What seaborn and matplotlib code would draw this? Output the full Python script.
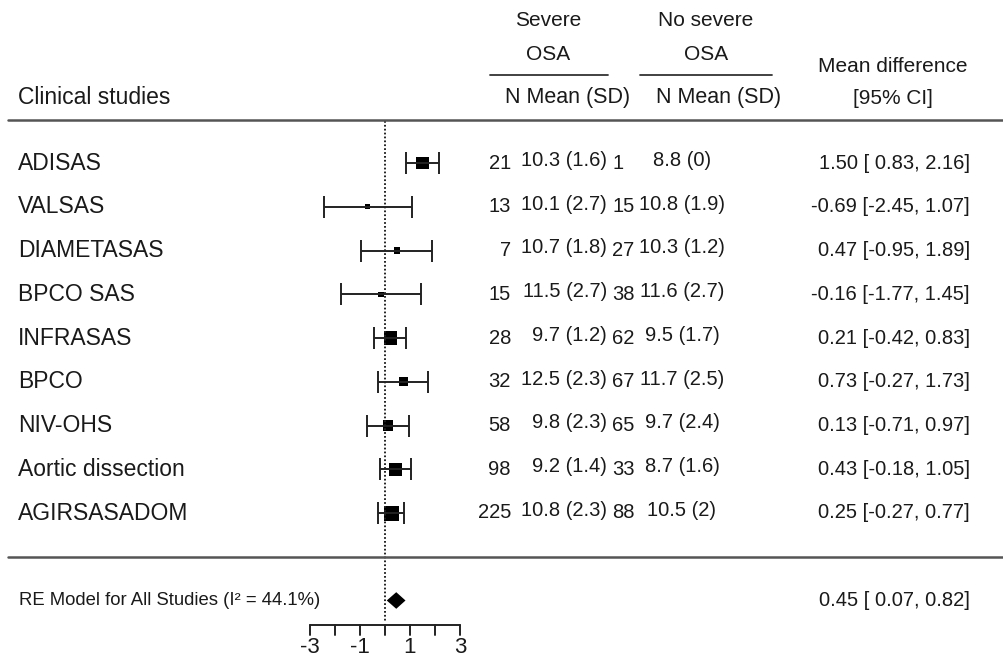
import numpy as np
import pandas as pd
import matplotlib
matplotlib.use('Agg')
import matplotlib.pyplot as plt
import seaborn as sns
from matplotlib.transforms import blended_transform_factory

# dados do forest plot
studies = ['ADISAS', 'VALSAS', 'DIAMETASAS', 'BPCO SAS', 'INFRASAS', 'BPCO',
           'NIV-OHS', 'Aortic dissection', 'AGIRSASADOM']
n_severe = [21, 13, 7, 15, 28, 32, 58, 98, 225]
mean_severe = ['10.3 (1.6)', '10.1 (2.7)', '10.7 (1.8)', '11.5 (2.7)', '9.7 (1.2)',
               '12.5 (2.3)', '9.8 (2.3)', '9.2 (1.4)', '10.8 (2.3)']
n_nosevere = [1, 15, 27, 38, 62, 67, 65, 33, 88]
mean_nosevere = ['8.8 (0)', '10.8 (1.9)', '10.3 (1.2)', '11.6 (2.7)', '9.5 (1.7)',
                 '11.7 (2.5)', '9.7 (2.4)', '8.7 (1.6)', '10.5 (2)']
md = [1.50, -0.69, 0.47, -0.16, 0.21, 0.73, 0.13, 0.43, 0.25]
ci_low = [0.83, -2.45, -0.95, -1.77, -0.42, -0.27, -0.71, -0.18, -0.27]
ci_high = [2.16, 1.07, 1.89, 1.45, 0.83, 1.73, 0.97, 1.05, 0.77]
re_est, re_low, re_high = 0.45, 0.07, 0.82
re_label = 'RE Model for All Studies (I² = 44.1%)'
ticks = [-3, -2, -1, 0, 1, 2, 3]
tick_labels = ['-3', '', '-1', '', '1', '', '3']
tau2 = 0.1  # estimativa aproximada para os pesos RE

df = pd.DataFrame({'study': studies, 'md': md, 'lb': ci_low, 'ub': ci_high})
df['row'] = np.arange(len(df))
se = (df['ub'] - df['lb']) / (2 * 1.96)
w = 1 / (se ** 2 + tau2)
psize = 0.5 + (w - w.min()) / (w.max() - w.min())  # como no metafor
df['box'] = (psize * 7.2) ** 2

sns.set_theme(style='white')
plt.rcParams['font.family'] = ['Liberation Sans', 'DejaVu Sans']
txt = '#1a1a1a'

fig = plt.figure(figsize=(10.04, 6.6), dpi=100)
ax = fig.add_axes([0, 0, 1, 1])
# 25 px por unidade, x=0 em 385 px; linhas a cada 43.75 px a partir de 163 px
ax.set_xlim(-385 / 25, (1004 - 385) / 25)
ax.set_ylim((660 - 163) / 43.75, -163 / 43.75)
ax.axis('off')
tr = blended_transform_factory(ax.transAxes, ax.transData)

def px(x):
    return x / 1004

def hy(p):
    return (p - 163) / 43.75

# intervalos de confiança
ax.errorbar(df['md'], df['row'], xerr=[df['md'] - df['lb'], df['ub'] - df['md']],
            fmt='none', ecolor='#222222', elinewidth=1.4, capsize=8, capthick=1.4)
sns.scatterplot(data=df, x='md', y='row', size='box', sizes=(df['box'].min(), df['box'].max()),
                marker='s', color='black', edgecolor='black', linewidth=0, legend=False, ax=ax)

re_row = len(df) + 1
ax.fill([re_low, re_est, re_high, re_est], [re_row, re_row - 0.19, re_row, re_row + 0.19],
        color='black', lw=0)

# linha de referência
ax.plot([0, 0], [-0.95, re_row + 0.48], ls=(0, (0.9, 1.1)), color='#222222', lw=1.4)

# linhas horizontais
ax.plot([px(8), 1], [-0.98, -0.98], transform=tr, color='#555555', lw=1.8)
ax.plot([px(8), 1], [len(df), len(df)], transform=tr, color='#555555', lw=1.8)

# eixo x
axis_y = re_row + 0.57
ax.plot([ticks[0], ticks[-1]], [axis_y, axis_y], color='#222222', lw=1.4)
for t, lab in zip(ticks, tick_labels):
    ax.plot([t, t], [axis_y, axis_y + 0.21], color='#222222', lw=1.4)
    if lab:
        ax.text(t, axis_y + 0.5, lab, ha='center', va='center', fontsize=16, color=txt)

fs = 16.5
fn = 14.5
for i, r in df.iterrows():
    y = r['row']
    ax.text(px(18), y, studies[i], transform=tr, ha='left', va='center', fontsize=fs, color=txt)
    ax.text(px(511), y, str(n_severe[i]), transform=tr, ha='right', va='center', fontsize=fn, color=txt)
    ax.text(px(607), y - 0.06, mean_severe[i], transform=tr, ha='right', va='center', fontsize=fn, color=txt)
    ax.text(px(612), y, str(n_nosevere[i]), transform=tr, ha='left', va='center', fontsize=fn, color=txt)
    ax.text(px(682), y - 0.06, mean_nosevere[i], transform=tr, ha='center', va='center', fontsize=fn, color=txt)
    ax.text(px(970), y, f'{md[i]:.2f} [{ci_low[i]:5.2f}, {ci_high[i]:.2f}]',
            transform=tr, ha='right', va='center', fontsize=fn, color=txt)

ax.text(px(19), re_row, re_label, transform=tr, ha='left', va='center', fontsize=13.3, color=txt)
ax.text(px(970), re_row, f'{re_est:.2f} [ {re_low:.2f}, {re_high:.2f}]', transform=tr,
        ha='right', va='center', fontsize=fn, color=txt)

# cabeçalho
fh = 15
ax.text(px(18), hy(98), 'Clinical studies', transform=tr, ha='left', va='center', fontsize=fs, color=txt)
ax.text(px(548), hy(20), 'Severe', transform=tr, ha='center', va='center', fontsize=fh, color=txt)
ax.text(px(548), hy(55), 'OSA', transform=tr, ha='center', va='center', fontsize=fh, color=txt)
ax.text(px(706), hy(20), 'No severe', transform=tr, ha='center', va='center', fontsize=fh, color=txt)
ax.text(px(706), hy(55), 'OSA', transform=tr, ha='center', va='center', fontsize=fh, color=txt)
ax.plot([px(490), px(608)], [hy(75), hy(75)], transform=tr, color='#333333', lw=1.3)
ax.plot([px(640), px(772)], [hy(75), hy(75)], transform=tr, color='#333333', lw=1.3)
ax.text(px(568), hy(98), 'N Mean (SD)', transform=tr, ha='center', va='center', fontsize=15.5, color=txt)
ax.text(px(719), hy(98), 'N Mean (SD)', transform=tr, ha='center', va='center', fontsize=15.5, color=txt)
ax.text(px(893), hy(67), 'Mean difference', transform=tr, ha='center', va='center', fontsize=fh, color=txt)
ax.text(px(893), hy(98), '[95% CI]', transform=tr, ha='center', va='center', fontsize=fh, color=txt)

plt.savefig('out.png', dpi=100)
